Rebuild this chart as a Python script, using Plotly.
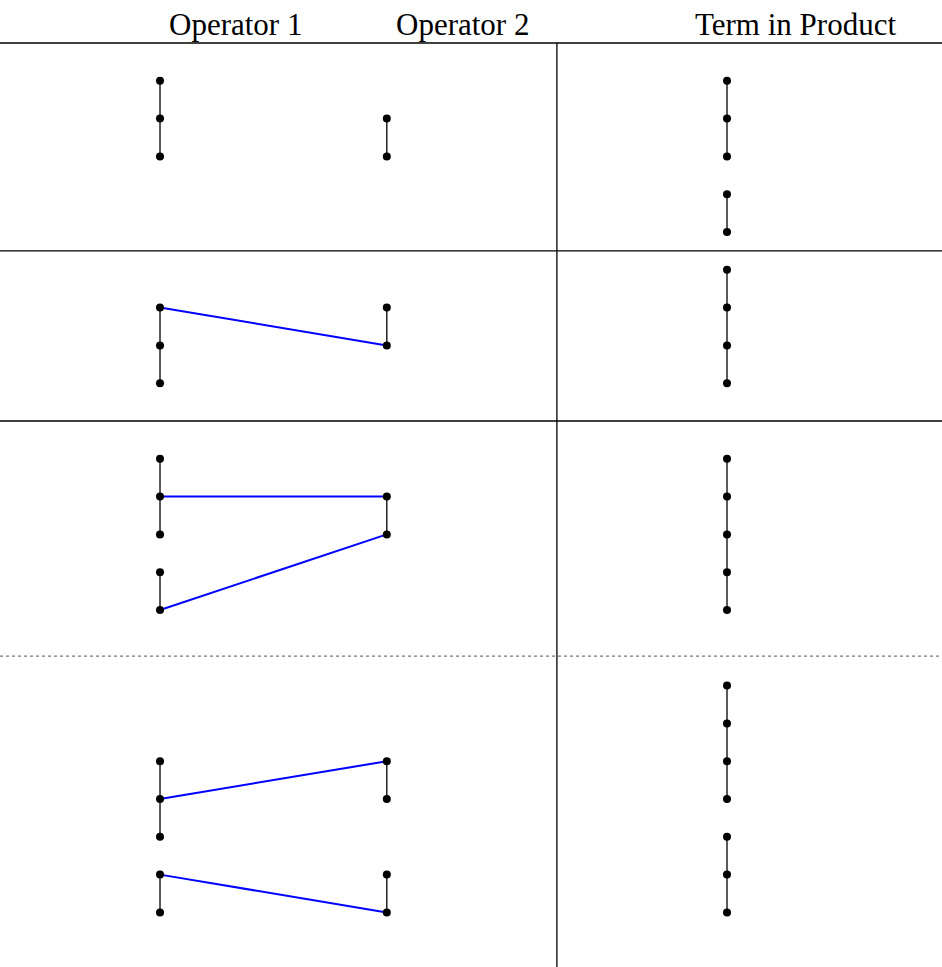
import plotly.graph_objects as go

# Column positions (grid units) for the three columns
COLUMN_NAMES = ["Operator 1", "Operator 2", "Term in Product"]
COLUMN_X = [0, 6, 15]
HEADER_X = [2.0, 8.0, 16.8]

# Row data: vertical chains (lists of dot levels) for each column
OP1_CHAINS = [
    [[1, 2, 3]],
    [[7, 8, 9]],
    [[11, 12, 13], [14, 15]],
    [[19, 20, 21], [22, 23]],
]
OP2_CHAINS = [
    [[2, 3]],
    [[7, 8]],
    [[12, 13]],
    [[19, 20], [22, 23]],
]
PRODUCT_CHAINS = [
    [[1, 2, 3], [4, 5]],
    [[6, 7, 8, 9]],
    [[11, 12, 13, 14, 15]],
    [[17, 18, 19, 20], [21, 22, 23]],
]
# Blue contractions: (level in operator 1, level in operator 2)
CONTRACTIONS = [
    [],
    [(7, 8)],
    [(12, 12), (15, 13)],
    [(20, 19), (22, 23)],
]
SOLID_SEPARATORS = [0, 5.5, 10]
DOTTED_SEPARATORS = [16.22]
VERTICAL_SEPARATOR = 10.5

Y_RANGE = [24.444, -1.1376]

fig = go.Figure()

# black chain lines
for col_x, chains_by_row in zip(COLUMN_X, [OP1_CHAINS, OP2_CHAINS, PRODUCT_CHAINS]):
    for row in chains_by_row:
        for chain in row:
            fig.add_trace(go.Scatter(
                x=[col_x] * len(chain), y=chain, mode="lines",
                line=dict(color="black", width=1.3), hoverinfo="skip"))

# blue contraction lines
for row in CONTRACTIONS:
    for a, b in row:
        fig.add_trace(go.Scatter(
            x=[COLUMN_X[0], COLUMN_X[1]], y=[a, b], mode="lines",
            line=dict(color="#0000ff", width=2), hoverinfo="skip"))

# dots
for col_x, chains_by_row in zip(COLUMN_X, [OP1_CHAINS, OP2_CHAINS, PRODUCT_CHAINS]):
    ys = [lvl for row in chains_by_row for chain in row for lvl in chain]
    fig.add_trace(go.Scatter(
        x=[col_x] * len(ys), y=ys, mode="markers",
        marker=dict(color="black", size=8), hoverinfo="skip"))

shapes = []
for yv in SOLID_SEPARATORS:
    shapes.append(dict(type="line", xref="paper", yref="y", x0=0, x1=1, y0=yv, y1=yv,
                       line=dict(color="black", width=1.3)))
for yv in DOTTED_SEPARATORS:
    shapes.append(dict(type="line", xref="paper", yref="y", x0=0, x1=1, y0=yv, y1=yv,
                       line=dict(color="#777777", width=1.2, dash="dot")))
shapes.append(dict(type="line", xref="x", yref="paper", x0=VERTICAL_SEPARATOR, x1=VERTICAL_SEPARATOR,
                   y0=0, y1=Y_RANGE[0] / (Y_RANGE[0] - Y_RANGE[1]),
                   line=dict(color="black", width=1.3)))

annotations = [
    dict(x=hx, y=-0.5, xref="x", yref="y", text=name, showarrow=False,
         xanchor="center", yanchor="middle",
         font=dict(family="Liberation Serif", size=31, color="black"))
    for hx, name in zip(HEADER_X, COLUMN_NAMES)
]

fig.update_layout(
    width=942, height=967,
    margin=dict(l=0, r=0, t=0, b=0),
    paper_bgcolor="white", plot_bgcolor="white",
    showlegend=False,
    shapes=shapes, annotations=annotations,
    xaxis=dict(range=[-4.233, 20.688], visible=False, fixedrange=True),
    yaxis=dict(range=Y_RANGE, visible=False, fixedrange=True),
)

fig.write_html(
    "out.html",
    config={"displayModeBar": False},
    post_script="document.body.style.margin='0px';document.body.style.overflow='hidden';",
)
